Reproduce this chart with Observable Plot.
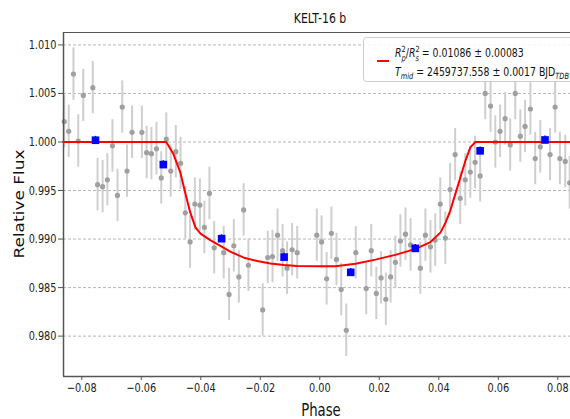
<!DOCTYPE html>
<html><head><meta charset="utf-8">
<script src="https://cdn.jsdelivr.net/npm/d3@7"></script>
<script src="https://cdn.jsdelivr.net/npm/@observablehq/plot@0.6"></script>
<style>
body{margin:0;background:#fff;overflow:hidden}
#chart{width:570px;height:419px;overflow:hidden;position:relative}
</style>
</head><body><div id="chart"></div>
<script>
// Unbinned light-curve points (phase, relative flux)
const phase = [-0.0859,-0.0844,-0.0828,-0.0812,-0.0795,-0.0763,-0.0747,-0.0730,-0.0714,-0.0697,-0.0680,-0.0664,-0.0648,-0.0631,-0.0598,-0.0582,-0.0566,-0.0549,-0.0533,-0.0516,-0.0501,-0.0484,-0.0468,-0.0452,-0.0436,-0.0420,-0.0403,-0.0388,-0.0371,-0.0355,-0.0323,-0.0305,-0.0289,-0.0272,-0.0256,-0.0240,-0.0192,-0.0175,-0.0159,-0.0142,-0.0125,-0.0110,-0.0093,-0.0076,-0.0010,0.0006,0.0023,0.0039,0.0056,0.0072,0.0089,0.0121,0.0156,0.0173,0.0190,0.0206,0.0222,0.0238,0.0254,0.0271,0.0288,0.0305,0.0338,0.0355,0.0372,0.0388,0.0405,0.0422,0.0438,0.0455,0.0472,0.0489,0.0506,0.0522,0.0539,0.0556,0.0574,0.0590,0.0606,0.0623,0.0640,0.0657,0.0674,0.0690,0.0708,0.0724,0.0741,0.0774,0.0791,0.0807,0.0825,0.0840];
const flux = [1.0021,1.0011,1.0070,1.0001,1.0048,1.0056,0.9956,0.9954,0.9961,0.9996,0.9945,1.0036,0.9970,1.0010,1.0010,0.9989,0.9988,0.9993,0.9963,1.0003,0.9970,0.9990,0.9978,0.9927,0.9897,0.9936,0.9935,0.9912,0.9947,0.9891,0.9886,0.9843,0.9893,0.9861,0.9930,0.9873,0.9827,0.9881,0.9882,0.9904,0.9888,0.9870,0.9889,0.9886,0.9904,0.9897,0.9859,0.9906,0.9879,0.9848,0.9806,0.9886,0.9849,0.9888,0.9844,0.9860,0.9838,0.9861,0.9876,0.9898,0.9905,0.9894,0.9870,0.9904,0.9892,0.9899,0.9936,0.9901,0.9951,0.9987,0.9942,0.9961,0.9969,0.9979,0.9965,1.0050,1.0037,1.0000,1.0011,1.0024,0.9997,1.0050,1.0006,1.0016,1.0034,0.9983,0.9995,0.9987,1.0036,0.9983,0.9980,0.9958];
const fluxErr = 0.0027;

// Binned points
const binPhase = [-0.0754,-0.0526,-0.0330,-0.0120,0.0104,0.0321,0.0539,0.0757];
const binFlux = [1.00018,0.99767,0.99004,0.98814,0.98657,0.98904,0.99909,1.00021];
const binErr = 0.0004;

// Transit model curve
const modelPhase = [-0.0862,-0.0516,-0.0492,-0.0469,-0.0452,-0.0436,-0.0418,-0.0401,-0.0367,-0.0334,-0.0301,-0.0255,-0.0210,-0.0166,-0.0121,-0.0076,0.0000,0.0053,0.0120,0.0187,0.0254,0.0322,0.0372,0.0406,0.0423,0.0439,0.0456,0.0473,0.0490,0.0506,0.0523,0.0862];
const modelFlux = [1.0000,1.0000,0.99876,0.99688,0.99471,0.99280,0.99121,0.99056,0.98987,0.98930,0.98870,0.98808,0.98773,0.98749,0.98732,0.98722,0.98719,0.98719,0.98746,0.98788,0.98837,0.98899,0.98969,0.99069,0.99172,0.99296,0.99468,0.99639,0.99811,0.99945,1.0000,1.0000];

const yTicks = [0.980,0.985,0.990,0.995,1.000,1.005,1.010];
const xTicks = [-0.08,-0.06,-0.04,-0.02,0.00,0.02,0.04,0.06,0.08];
const xDomain = [-0.08615, 0.08427];
const yDomain = [0.97584, 1.01128];

const pts = phase.map((p,i)=>({x:p, y:flux[i]}));
const bins = binPhase.map((p,i)=>({x:p, y:binFlux[i]}));
const model = modelPhase.map((p,i)=>({x:p, y:modelFlux[i]}));

const SX = 0.78; // horizontal squeeze of glyphs seen in the reference

const plot = Plot.plot({
  width: 570, height: 419,
  marginLeft: 63, marginRight: 0, marginTop: 32, marginBottom: 43,
  style: {fontFamily: "DejaVu Sans", fontSize: "12.5px", color: "#222", background: "#fff"},
  x: {domain: xDomain},
  y: {domain: yDomain},
  marks: [
    Plot.gridY(yTicks, {stroke: "#999", strokeOpacity: 0.9, strokeDasharray: "3,2", strokeWidth: 0.8}),
    Plot.ruleX(pts, {x: "x", y1: d=>d.y-fluxErr, y2: d=>d.y+fluxErr, stroke: "#cfcfcf", strokeWidth: 2}),
    Plot.dot(pts, {x: "x", y: "y", r: 2.6, fill: "#a0a0a0", stroke: "none"}),
    Plot.line(model, {x: "x", y: "y", stroke: "red", strokeWidth: 2}),
    Plot.ruleX(bins, {x: "x", y1: d=>d.y-binErr, y2: d=>d.y+binErr, stroke: "blue", strokeWidth: 1.5}),
    Plot.dot(bins, {x: "x", y: "y", symbol: "square", r: 4.3, fill: "blue", stroke: "none"}),
    Plot.ruleY([yDomain[0]], {stroke: "#555", strokeWidth: 1.5}),
    Plot.ruleY([yDomain[1]], {stroke: "#555", strokeWidth: 1}),
    Plot.ruleX([xDomain[0]], {stroke: "#555", strokeWidth: 1.5}),
    Plot.axisY({ticks: yTicks, tickFormat: d3.format(".3f"), tickSize: 5, tickPadding: 2, label: null, stroke: "#555"}),
    Plot.axisX({ticks: xTicks, tickFormat: d3.format(".2f"), tickSize: 4, tickPadding: 3, label: null, stroke: "#555"})
  ]
});

document.getElementById("chart").appendChild(plot);
const svg = d3.select(plot);
svg.style("overflow", "hidden");

// squeeze tick labels horizontally like the reference
svg.selectAll('g[aria-label="y-axis tick label"] text, g[aria-label="x-axis tick label"] text')
  .attr("transform", function(){ return (this.getAttribute("transform") || "") + ` scale(${SX},1)`; });

function label(x, y, size, str, rot) {
  const g = svg.append("g").attr("transform", `translate(${x},${y})` + (rot ? ` rotate(${rot}) scale(1,${SX})` : ` scale(${SX},1)`));
  return g.append("text").attr("text-anchor", "middle").attr("font-family", "DejaVu Sans")
    .attr("font-size", size).attr("fill", "#111").text(str);
}
label(320, 23, 14, "KELT-16 b");
label(24, 204, 17, "Relative Flux", -90);
label(321, 416, 17, "Phase");

// Legend
const lg = svg.append("g").attr("font-family", "DejaVu Sans").attr("fill", "#111").attr("text-anchor", "start");
lg.append("rect").attr("x", 363.5).attr("y", 37.5).attr("width", 230).attr("height", 44).attr("rx", 3)
  .attr("fill", "#fff").attr("fill-opacity", 0.85).attr("stroke", "#ccc");
lg.append("line").attr("x1", 377).attr("x2", 389).attr("y1", 61).attr("y2", 61).attr("stroke", "red").attr("stroke-width", 2);
const t1 = lg.append("g").attr("transform", `translate(395,57) scale(${SX},1)`)
  .append("text").attr("font-size", 12).attr("text-anchor", "start");
t1.append("tspan").attr("font-style", "italic").text("R");
t1.append("tspan").attr("font-size", 8.5).attr("dy", -5).text("2");
t1.append("tspan").attr("font-size", 8.5).attr("font-style", "italic").attr("dx", -5.4).attr("dy", 8.5).text("p");
t1.append("tspan").attr("dy", -3.5).text("/");
t1.append("tspan").attr("font-style", "italic").text("R");
t1.append("tspan").attr("font-size", 8.5).attr("dy", -5).text("2");
t1.append("tspan").attr("font-size", 8.5).attr("font-style", "italic").attr("dx", -5.4).attr("dy", 8.5).text("s");
t1.append("tspan").attr("dy", -3.5).text(" = 0.01086 ± 0.00083");
const t2 = lg.append("g").attr("transform", `translate(395,76) scale(${SX},1)`)
  .append("text").attr("font-size", 12).attr("text-anchor", "start");
t2.append("tspan").attr("font-style", "italic").text("T");
t2.append("tspan").attr("font-size", 8.5).attr("font-style", "italic").attr("dy", 3).text("mid");
t2.append("tspan").attr("dy", -3).text(" = 2459737.558 ± 0.0017 BJD");
t2.append("tspan").attr("font-size", 8.5).attr("font-style", "italic").attr("dy", 3).text("TDB");
</script>
</body></html>
